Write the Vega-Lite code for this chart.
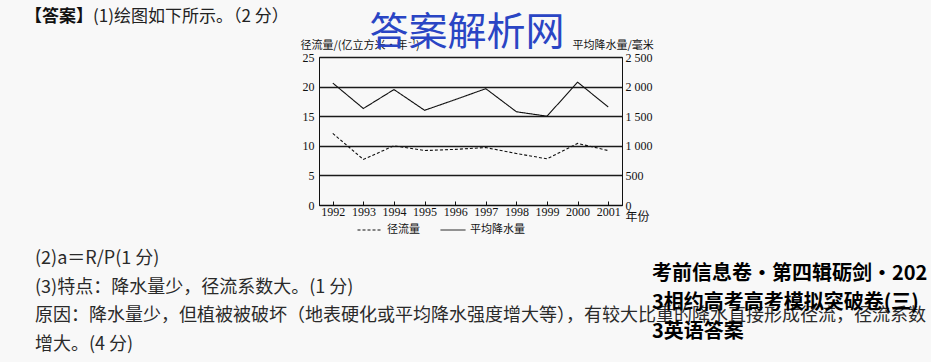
{
  "$schema": "https://vega.github.io/schema/vega-lite/v6.json",
  "width": 303,
  "height": 148,
  "autosize": "none",
  "padding": {"left": 319, "top": 57, "right": 309, "bottom": 157},
  "background": "#f8f8f8",
  "config": {
    "view": {"stroke": "#444", "strokeWidth": 1},
    "axis": {"labelFont": "Liberation Serif", "labelFontSize": 12, "labelColor": "#111", "domainColor": "#111", "tickColor": "#111", "titleFont": "Noto Sans CJK SC", "titleFontSize": 11, "titleFontWeight": "normal", "titleColor": "#111"},
    "legend": {"labelFont": "Noto Sans CJK SC", "labelFontSize": 11, "labelColor": "#111"},
    "text": {"font": "Noto Sans CJK SC"}
  },
  "data": {
    "values": [
      {"year": "1992", "runoff": 12.1, "precip": 2060},
      {"year": "1993", "runoff": 7.7, "precip": 1630},
      {"year": "1994", "runoff": 10.0, "precip": 1950},
      {"year": "1995", "runoff": 9.2, "precip": 1600},
      {"year": "1996", "runoff": 9.4, "precip": 1780},
      {"year": "1997", "runoff": 9.7, "precip": 1965},
      {"year": "1998", "runoff": 8.7, "precip": 1575},
      {"year": "1999", "runoff": 7.8, "precip": 1500},
      {"year": "2000", "runoff": 10.4, "precip": 2075},
      {"year": "2001", "runoff": 9.2, "precip": 1655}
    ]
  },
  "layer": [
    {
      "mark": {"type": "line", "color": "#111", "strokeWidth": 1.1},
      "encoding": {
        "x": {"field": "year", "type": "ordinal", "scale": {"type": "point", "padding": 0.45},
          "axis": {"labelAngle": 0, "tickSize": -4, "labelPadding": 5, "title": "年份", "titleAngle": 0, "titleAlign": "left", "titleBaseline": "top", "titleX": 306, "titleY": 6, "titleFontSize": 12}},
        "y": {"field": "runoff", "type": "quantitative", "scale": {"domain": [0, 25], "nice": false},
          "axis": {"orient": "left", "values": [0, 5, 10, 15, 20, 25], "grid": true, "gridColor": "#1a1a1a", "gridWidth": 1.5, "gridOpacity": 1, "tickSize": 0, "labelPadding": 5,
            "title": "径流量/(亿立方米·年⁻¹)", "titleAngle": 0, "titleAlign": "left", "titleBaseline": "middle", "titleX": -19, "titleY": -12}},
        "strokeDash": {"datum": "径流量", "type": "nominal",
          "scale": {"domain": ["径流量", "平均降水量"], "range": [[3, 2], [1, 0]]},
          "legend": {"title": null, "orient": "none", "legendX": 38, "legendY": 160, "direction": "horizontal", "symbolType": "stroke", "symbolSize": 625, "symbolStrokeWidth": 1, "symbolStrokeColor": "#111", "columnPadding": 18, "labelOffset": 4}}
      }
    },
    {
      "mark": {"type": "line", "color": "#111", "strokeWidth": 1.1},
      "encoding": {
        "x": {"field": "year", "type": "ordinal"},
        "y": {"field": "precip", "type": "quantitative", "scale": {"domain": [0, 2500], "nice": false},
          "axis": {"orient": "right", "values": [0, 500, 1000, 1500, 2000, 2500], "grid": false, "tickSize": 0, "labelPadding": 3,
            "labelExpr": "replace(format(datum.value, ','), ',', ' ')",
            "title": "平均降水量/毫米", "titleAngle": 0, "titleAlign": "left", "titleBaseline": "middle", "titleX": -50, "titleY": -12}},
        "strokeDash": {"datum": "平均降水量", "type": "nominal"}
      }
    },
    {
      "data": {"values": [{"t": "【答案】"}]},
      "mark": {"type": "text", "align": "left", "baseline": "alphabetic", "fontSize": 17, "fontWeight": "bold", "color": "#111"},
      "encoding": {"x": {"value": -294}, "y": {"value": -35}, "text": {"field": "t"}}
    },
    {
      "data": {"values": [{"t": "(1)绘图如下所示。（2 分）"}]},
      "mark": {"type": "text", "align": "left", "baseline": "alphabetic", "fontSize": 17, "color": "#222"},
      "encoding": {"x": {"value": -226}, "y": {"value": -35}, "text": {"field": "t"}}
    },
    {
      "data": {"values": [{"t": "答案解析网"}]},
      "mark": {"type": "text", "align": "center", "baseline": "alphabetic", "fontSize": 39, "color": "#2a45c4"},
      "encoding": {"x": {"value": 148}, "y": {"value": -12}, "text": {"field": "t"}}
    },
    {
      "data": {"values": [{"t": ["(2)a＝R/P(1 分)", "(3)特点：降水量少，径流系数大。(1 分)", "原因：降水量少，但植被被破坏（地表硬化或平均降水强度增大等），有较大比重的降水直接形成径流，径流系数", "增大。(4 分)"]}]},
      "mark": {"type": "text", "align": "left", "baseline": "alphabetic", "fontSize": 18, "lineHeight": 28.5, "color": "#2a2a2a"},
      "encoding": {"x": {"value": -284}, "y": {"value": 207}, "text": {"field": "t"}}
    },
    {
      "data": {"values": [{"t": ["考前信息卷·第四辑砺剑·202", "3相约高考高考模拟突破卷(三)", "3英语答案"]}]},
      "mark": {"type": "text", "align": "left", "baseline": "alphabetic", "fontSize": 20, "fontWeight": "bold", "lineHeight": 29, "color": "#000"},
      "encoding": {"x": {"value": 333}, "y": {"value": 223}, "text": {"field": "t"}}
    }
  ],
  "resolve": {"scale": {"y": "independent"}}
}
